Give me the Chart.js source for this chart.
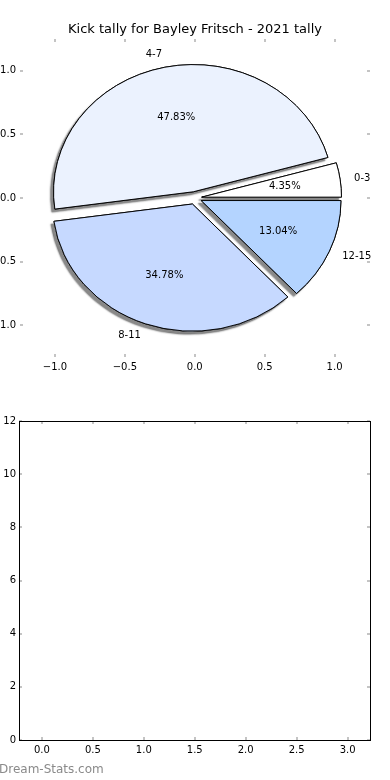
<!DOCTYPE html>
<html><head><meta charset="utf-8">
<script src="https://cdn.jsdelivr.net/npm/chart.js@4"></script>
<style>
html,body{margin:0;padding:0;background:#fff;}
#wrap{position:relative;width:390px;height:780px;overflow:hidden;}
canvas{position:absolute;left:0;}
</style></head><body>
<div id="wrap">
<canvas id="axes" width="390" height="390" style="top:0"></canvas>
<canvas id="pie" width="390" height="390" style="top:0"></canvas>
<canvas id="bars" width="390" height="390" style="top:390px"></canvas>
</div>
<script>
// ---- data ----
const chartTitle = 'Kick tally for Bayley Fritsch - 2021 tally';
const categories = ['0-3', '4-7', '8-11', '12-15'];
const kickCounts = [1, 11, 8, 3];
const pieTicks = [-1, -0.5, 0, 0.5, 1];
const barXTicks = [0, 0.5, 1, 1.5, 2, 2.5, 3];
const barYTicks = [0, 2, 4, 6, 8, 10, 12];
const watermarkText = 'Dream-Stats.com';

// ---- styles ----
const sliceColors = ['#ffffff', '#ebf2fe', '#c6d9ff', '#b4d4ff'];
const explode = [0.05, 0.05, 0.05, 0.05];
const FONT = 'DejaVu Sans';

Chart.defaults.font.family = FONT;
Chart.defaults.font.size = 10;
Chart.defaults.color = '#000';
Chart.defaults.animation = false;

const fmt1 = v => Number(v).toFixed(1).replace('-', '\u2212');

function tickMarks(color, len) {
  return {
    id: 'tickMarks',
    afterDraw(chart) {
      const {ctx, chartArea: a, scales: {x, y}} = chart;
      ctx.save();
      ctx.fillStyle = color;
      x.ticks.forEach(t => {
        const px = Math.round(x.getPixelForValue(t.value));
        ctx.fillRect(px - 1, Math.floor(a.top), 2, len);
        ctx.fillRect(px - 1, Math.ceil(a.bottom) - len, 2, len);
      });
      y.ticks.forEach(t => {
        const py = Math.round(y.getPixelForValue(t.value));
        ctx.fillRect(Math.floor(a.left), py - 1, len, 2);
        ctx.fillRect(Math.ceil(a.right) - len, py - 1, len, 2);
      });
      ctx.restore();
    }
  };
}

// ---- top axes (for the pie) ----
const axesChart = new Chart(document.getElementById('axes'), {
  type: 'scatter',
  data: {datasets: []},
  options: {
    responsive: false,
    animation: false,
    events: [],
    layout: {padding: 0},
    plugins: {
      legend: {display: false},
      tooltip: {enabled: false},
      title: {display: true, text: chartTitle, color: '#000',
        font: {size: 13, weight: 'normal', family: FONT}, padding: {top: 22, bottom: 1.4}}
    },
    scales: {
      x: {
        type: 'linear', min: -1.25, max: 1.25,
        grid: {display: false, drawTicks: false}, border: {display: false},
        afterBuildTicks: s => { s.ticks = pieTicks.map(v => ({value: v})); },
        afterFit: s => { s.height = 33; },
        ticks: {padding: 4, maxRotation: 0, autoSkip: false, callback: fmt1}
      },
      y: {
        type: 'linear', min: -1.25, max: 1.25,
        grid: {display: false, drawTicks: false}, border: {display: false},
        afterBuildTicks: s => { s.ticks = pieTicks.map(v => ({value: v})); },
        afterFit: s => { s.width = 20; },
        ticks: {padding: 4, autoSkip: false, callback: fmt1}
      },
      yRight: {
        type: 'linear', position: 'right', min: -1.25, max: 1.25,
        grid: {display: false, drawTicks: false}, border: {display: false},
        ticks: {display: false},
        afterFit: s => { s.width = 20.5; }
      }
    }
  },
  plugins: [tickMarks('#c4c4c4', 3)]
});

const ca = axesChart.chartArea;
const xs = axesChart.scales.x, ys = axesChart.scales.y;
const cx0 = xs.getPixelForValue(0), cy0 = ys.getPixelForValue(0);
const rX = xs.getPixelForValue(1) - cx0;
const rY = cy0 - ys.getPixelForValue(1);
const sy = rY / rX;
const total = kickCounts.reduce((a, b) => a + b, 0);

const pieDraw = {
  id: 'pieDraw',
  beforeDatasetsDraw(chart) {
    const ctx = chart.ctx;
    const meta = chart.getDatasetMeta(0);
    const drawPass = (shadow) => {
      meta.data.forEach((arc, i) => {
        const mid = (arc.startAngle + arc.endAngle) / 2;
        const e = explode[i] * arc.outerRadius;
        ctx.save();
        ctx.translate(arc.x, arc.y);
        ctx.scale(1, -sy);
        ctx.translate(-arc.x, -arc.y);
        ctx.translate(e * Math.cos(mid), e * Math.sin(mid));
        if (shadow) {
          ctx.shadowColor = 'rgba(40,40,40,0.55)';
          ctx.shadowOffsetX = -3;
          ctx.shadowOffsetY = 3;
          ctx.shadowBlur = 1.5;
        }
        arc.draw(ctx);
        ctx.restore();
      });
    };
    drawPass(true);
    drawPass(false);
    return false;
  },
  afterDraw(chart) {
    const ctx = chart.ctx;
    const meta = chart.getDatasetMeta(0);
    ctx.save();
    ctx.font = '10px "' + FONT + '"';
    ctx.fillStyle = '#000';
    ctx.textBaseline = 'middle';
    meta.data.forEach((arc, i) => {
      const mid = (arc.startAngle + arc.endAngle) / 2;
      const R = arc.outerRadius;
      const pos = f => [arc.x + (f + explode[i]) * R * Math.cos(mid),
                        arc.y - sy * (f + explode[i]) * R * Math.sin(mid)];
      const [lx, ly] = pos(1.1);
      ctx.textAlign = Math.cos(mid) < 0 ? 'right' : 'left';
      ctx.fillText(categories[i], lx, ly);
      const [qx, qy] = pos(0.6);
      ctx.textAlign = 'center';
      ctx.fillText((kickCounts[i] / total * 100).toFixed(2) + '%', qx, qy);
    });
    ctx.restore();
  }
};

new Chart(document.getElementById('pie'), {
  type: 'pie',
  data: {
    labels: categories,
    datasets: [{
      data: kickCounts,
      backgroundColor: sliceColors,
      borderColor: '#000',
      borderWidth: 1,
      rotation: 90,
      radius: rX,
      offset: 0,
      hoverOffset: 0
    }]
  },
  options: {
    responsive: false,
    animation: false,
    events: [],
    layout: {padding: {left: ca.left, right: 390 - ca.right, top: ca.top, bottom: 390 - ca.bottom}},
    plugins: {legend: {display: false}, tooltip: {enabled: false}, title: {display: false}}
  },
  plugins: [pieDraw]
});

// ---- bottom empty axes ----
const frame = {
  id: 'frame',
  afterDraw(chart) {
    const {ctx, chartArea: a} = chart;
    ctx.save();
    ctx.strokeStyle = '#000';
    ctx.lineWidth = 1;
    const l = Math.floor(a.left) + 0.5, t = Math.floor(a.top) + 0.5;
    const r = Math.floor(a.right) + 0.5, b = Math.floor(a.bottom) + 0.5;
    ctx.strokeRect(l, t, r - l, b - t);
    ctx.restore();
  }
};
const watermark = {
  id: 'watermark',
  afterDraw(chart) {
    const ctx = chart.ctx;
    ctx.save();
    ctx.font = '12px "' + FONT + '"';
    ctx.fillStyle = '#8a8a8a';
    ctx.textAlign = 'left';
    ctx.textBaseline = 'middle';
    ctx.fillText(watermarkText, -1, 380);
    ctx.restore();
  }
};

new Chart(document.getElementById('bars'), {
  type: 'scatter',
  data: {datasets: []},
  options: {
    responsive: false,
    animation: false,
    events: [],
    layout: {padding: {left: 0, right: 20, top: 31, bottom: 0}},
    plugins: {legend: {display: false}, tooltip: {enabled: false}},
    scales: {
      x: {
        type: 'linear', min: -0.22, max: 3.22,
        grid: {display: false, drawTicks: false}, border: {display: false},
        afterBuildTicks: s => { s.ticks = barXTicks.map(v => ({value: v})); },
        afterFit: s => { s.height = 40; },
        ticks: {padding: 4, maxRotation: 0, autoSkip: false, callback: v => Number(v).toFixed(1)}
      },
      y: {
        type: 'linear', min: 0, max: 12,
        grid: {display: false, drawTicks: false}, border: {display: false},
        afterBuildTicks: s => { s.ticks = barYTicks.map(v => ({value: v})); },
        afterFit: s => { s.width = 19.5; },
        ticks: {padding: 3.5, autoSkip: false, callback: v => String(v)}
      }
    }
  },
  plugins: [tickMarks('#c4c4c4', 3), frame, watermark]
});
</script>
</body></html>
